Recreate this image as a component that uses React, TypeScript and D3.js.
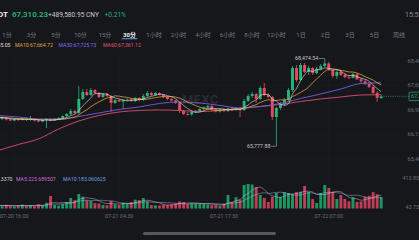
import React from 'react';
import * as d3 from 'd3';

const W = 419;
const H = 240;

// ---- header / tabs ----
const symbolName = 'BTC/USDT';
const lastPriceText = '67,310.23';
const cnyText = '+489,580.95 CNY';
const changeText = '+0.21%';
const clockText = '15:56';
const intervals = ['1分', '3分', '5分', '10分', '15分', '30分', '1小时', '2小时', '4小时', '6小时', '8小时', '12小时', '1日', '2日', '3日', '5日', '周线'];
const activeInterval = '30分';

// ---- 30-minute candles ----
const opens = [
  66676, 66615, 66661, 66599, 66568, 66615, 66584, 66630, 66584, 66615,
  66568, 66538, 66584, 66615, 66568, 66615, 66645, 66707, 66768, 66861,
  66799, 67230, 67445, 67352, 67506, 67414, 67291, 67383, 67322, 67107,
  67199, 67153, 67199, 67214, 67168, 67260, 67199, 67322, 67414, 67352,
  67414, 67368, 67291, 67230, 67184, 67107, 66861, 66768, 66753, 66830,
  66861, 66922, 66968, 67014, 66922, 66845, 66922, 66861, 66938, 66891,
  66953, 66891, 67168, 67322, 67383, 67230, 67568, 67352, 67291, 66676,
  66953, 67076, 67199, 67506, 68182, 67814, 68275, 68060, 68182, 68029,
  68152, 68244, 68321, 68121, 67937, 68060, 67967, 67895.6, 67880.4, 67988.15,
  67834.3, 67773.5, 67690.7, 67598.5, 67415.42, 67260.4,
];
const highs = [
  66707, 66692, 66676, 66645, 66645, 66630, 66676, 66661, 66707, 66630,
  66599, 66599, 66645, 66630, 66645, 66676, 66722, 66799, 66922, 66891,
  67629, 67537, 67537, 67568, 67537, 67445, 67414, 67414, 67352, 67230,
  67230, 67230, 67245, 67245, 67291, 67291, 67383, 67475, 67445, 67445,
  67430, 67383, 67322, 67260, 67199, 67137, 66891, 66830, 66861, 66891,
  66953, 66999, 67045, 67045, 66953, 66938, 66953, 66968, 66984, 66984,
  66984, 67230, 67383, 67445, 67414, 67629, 67721, 67414, 67322, 66984,
  67137, 67260, 67568, 68244, 68275, 68336, 68336, 68244, 68213, 68213,
  68305, 68474.54, 68367, 68152, 68121, 68121, 68029, 67967, 68029, 68029,
  67875, 67814, 67752, 67660, 67475, 67352,
];
const lows = [
  66584, 66584, 66568, 66553, 66538, 66553, 66568, 66553, 66553, 66538,
  66507, 66522, 66338, 66553, 66553, 66584, 66615, 66676, 66738, 66768,
  66768, 67199, 67322, 67322, 67383, 67260, 67260, 67291, 66830, 67076,
  67137, 66922, 67153, 67137, 67137, 67168, 67168, 67291, 67322, 67322,
  67337, 67260, 67199, 67153, 67076, 66799, 66738, 66722, 66722, 66799,
  66830, 66876, 66907, 66876, 66815, 66815, 66830, 66830, 66861, 66861,
  66676, 66861, 67137, 67260, 67107, 67199, 67322, 67260, 66584, 65777.88,
  66891, 67014, 67168, 67445, 67752, 67783, 68029, 67967, 67967, 67998,
  68121, 68213, 68090, 67875, 67844, 67937, 67875, 67844, 67860, 67814,
  67721, 67660, 67568, 67383, 67137, 67230,
];
const closes = [
  66615, 66661, 66599, 66568, 66615, 66584, 66630, 66584, 66615, 66568,
  66538, 66584, 66615, 66568, 66615, 66645, 66707, 66768, 66861, 66799,
  67230, 67445, 67352, 67506, 67414, 67291, 67383, 67322, 67107, 67199,
  67153, 67199, 67214, 67168, 67260, 67199, 67322, 67414, 67352, 67414,
  67368, 67291, 67230, 67184, 67107, 66861, 66768, 66753, 66830, 66861,
  66922, 66968, 67014, 66922, 66845, 66922, 66861, 66938, 66891, 66953,
  66891, 67168, 67322, 67383, 67230, 67568, 67352, 67291, 66676, 66953,
  67076, 67199, 67506, 68182, 67814, 68275, 68060, 68182, 68029, 68152,
  68244, 68321, 68121, 67937, 68060, 67967, 67895.6, 67880.4, 67988.15, 67834.3,
  67773.5, 67690.7, 67598.5, 67415.42, 67260.4, 67310.23,
];
const volumes = [
  55, 40, 60, 45, 35, 50, 65, 45, 55, 40,
  70, 50, 95, 211, 60, 50, 75, 110, 177, 140,
  245, 200, 140, 125, 90, 85, 60, 55, 130, 70,
  60, 95, 80, 110, 150, 140, 177, 120, 60, 55,
  50, 65, 60, 70, 85, 120, 110, 75, 90, 85,
  80, 75, 70, 55, 60, 45, 80, 228, 110, 190,
  150, 397, 413.85, 405, 363, 228, 177, 110, 200, 262,
  194, 279, 262, 240, 279, 285, 380, 279, 160, 93,
  262, 397, 346, 279, 160, 228, 160.4371, 120.5824, 190.3109, 110.8452,
  119.983115, 200.1836, 215.7402, 275.9213, 241.265435, 195.337,
];
// candles just before the visible window (for the short moving averages)
const priorCloses = [66640, 66690, 66655, 66700, 66670, 66630, 66665, 66690, 66650];
const priorVolumes = [60, 45, 70, 50, 55, 40, 65, 50, 45];

// long moving averages, every 5th candle
const maLongIdx = [0, 5, 10, 15, 20, 25, 30, 35, 40, 45, 50, 55, 60, 65, 70, 75, 80, 85, 90, 95];
const ma30Vals = [66722, 66676, 66615, 66615, 66692, 66799, 66907, 66984, 67091, 67137, 67107, 67030, 66953, 66999, 67091, 67245, 67383, 67537, 67706, 67725.73];
const ma60Vals = [65646, 65831, 66000, 66307, 66553, 66722, 66830, 66876, 66891, 66876, 66845, 66876, 66938, 66999, 67061, 67153, 67230, 67291, 67353, 67361.12];

// axes
const priceTicks = [68400, 67650, 66900, 66150, 65400];
const volTickTop = 413.85;
const volTickBottom = 43.75;
const dateTickIdx = [4, 30, 56, 82];
const dateTickLabels = ['07-20 16:00', '07-21 04:30', '07-21 17:30', '07-22 07:00'];

const BG = '#16171b';
const UP = '#26b47a';
const DOWN = '#e64a63';
const VOL_UP = '#1b9862';
const VOL_DOWN = '#c03d56';
const FONT = "Roboto, 'Noto Sans CJK SC', 'Noto Sans', sans-serif";

function movingAvg(prior: number[], vals: number[], n: number): number[] {
  const all = prior.concat(vals);
  const off = prior.length;
  return vals.map((_, i) => {
    const end = i + off;
    return d3.mean(all.slice(end - n + 1, end + 1)) as number;
  });
}

export default function App() {
  const n = closes.length;
  const x = d3.scaleLinear().domain([0, n - 1]).range([-1.85, 381.2]);
  const y = d3.scaleLinear().domain([65400, 68400]).range([158.5, 60.9]);
  const yVol = d3.scaleLinear().domain([0, 413.85]).range([208.5, 184]);
  const tabX = d3.scalePoint<string>().domain(intervals).range([7, 399]);
  const bodyW = 2.9;

  const ma5 = movingAvg(priorCloses, closes, 5);
  const ma10 = movingAvg(priorCloses, closes, 10);
  const vma5 = movingAvg(priorVolumes, volumes, 5);
  const vma10 = movingAvg(priorVolumes, volumes, 10);

  const lineIdx = d3
    .line<number>()
    .x((_, i) => x(i))
    .y((v) => y(v))
    .curve(d3.curveMonotoneX);
  const lineLong = (vals: number[]) =>
    d3
      .line<number>()
      .x((_, i) => x(maLongIdx[i]))
      .y((v) => y(v))
      .curve(d3.curveMonotoneX)(vals) as string;
  const lineVol = d3
    .line<number>()
    .x((_, i) => x(i))
    .y((v) => yVol(v))
    .curve(d3.curveMonotoneX);

  const fmt2 = d3.format(',.2f');
  const last = n - 1;
  const lastClose = closes[last];

  const hiIdx = d3.maxIndex(highs);
  const loIdx = d3.minIndex(lows);

  return (
    <div style={{ position: 'fixed', left: 0, top: 0, width: W, height: H, background: BG }}>
      <svg width={W} height={H} style={{ display: 'block', fontFamily: FONT }}>
        <rect width={W} height={H} fill={BG} />
        <defs>
          <clipPath id="mainClip">
            <rect x={0} y={50} width={400} height={118} />
          </clipPath>
        </defs>

        {/* header */}
        <text x={8} y={17} textAnchor="end" fontSize={8} fontWeight={700} fill="#f0f0f0">{symbolName}</text>
        <text x={12} y={17} fontSize={8} fontWeight={600} fill={UP}>{lastPriceText}</text>
        <text x={48} y={17} fontSize={6.6} fill="#c9cbd0">{cnyText}</text>
        <text x={104.5} y={17} fontSize={6.6} fill={UP}>{changeText}</text>
        <text x={405} y={16.5} fontSize={7} fill="#8a8d94">{clockText}</text>

        {/* interval tabs */}
        {intervals.map((t) => (
          <text
            key={t}
            x={tabX(t)}
            y={36.5}
            textAnchor="middle"
            fontSize={6}
            fontWeight={t === activeInterval ? 700 : 400}
            fill={t === activeInterval ? '#f2f2f2' : '#7a7d85'}
          >
            {t}
          </text>
        ))}
        <rect x={(tabX(activeInterval) as number) - 8} y={38.3} width={16} height={1} rx={0.5} fill="#6e9cf5" />

        {/* MA legend */}
        <g fontSize={5.2}>
          <text x={10.5} y={47} textAnchor="end" fill="#e3dccd">{`MA5:${fmt2(ma5[last])}`}</text>
          <text x={15} y={47} fill="#e0a048">{`MA10:${fmt2(ma10[last])}`}</text>
          <text x={58.5} y={47} fill="#7a6ff0">{`MA30:${fmt2(ma30Vals[ma30Vals.length - 1])}`}</text>
          <text x={103} y={47} fill="#e0556e">{`MA60:${fmt2(ma60Vals[ma60Vals.length - 1])}`}</text>
        </g>

        {/* grid */}
        {priceTicks.map((p) => (
          <line key={p} x1={0} x2={400} y1={y(p)} y2={y(p)} stroke="#1d1f24" strokeWidth={0.6} />
        ))}
        {dateTickIdx.map((i) => (
          <line key={i} x1={x(i)} x2={x(i)} y1={52} y2={210} stroke="#1d1f24" strokeWidth={0.6} />
        ))}

        {/* watermark */}
        <text x={200.5} y={103.5} textAnchor="middle" fontSize={12.5} fontWeight={700} letterSpacing={0.6} fill="#2a2c33">
          MEXC
        </text>

        {/* candles */}
        <g clipPath="url(#mainClip)">
          {closes.map((c, i) => {
            const o = opens[i];
            const up = c >= o;
            const col = up ? UP : DOWN;
            const top = y(Math.max(o, c));
            const bh = Math.max(0.8, Math.abs(y(o) - y(c)));
            return (
              <g key={i}>
                <line x1={x(i)} x2={x(i)} y1={y(highs[i])} y2={y(lows[i])} stroke={col} strokeWidth={0.8} />
                <rect x={x(i) - bodyW / 2} y={top} width={bodyW} height={bh} fill={col} />
              </g>
            );
          })}

          {/* moving averages */}
          <path d={lineLong(ma60Vals)} fill="none" stroke="#d9506b" strokeWidth={0.9} />
          <path d={lineLong(ma30Vals)} fill="none" stroke="#6c60e0" strokeWidth={0.9} />
          <path d={lineIdx(ma10) as string} fill="none" stroke="#e2a040" strokeWidth={0.8} />
          <path d={lineIdx(ma5) as string} fill="none" stroke="#e8e8ec" strokeWidth={0.7} opacity={0.85} />
        </g>

        {/* high / low markers */}
        <g fontSize={5.3} fill="#c6c8cc">
          <text x={x(hiIdx) - 6.5} y={y(highs[hiIdx]) + 1.8} textAnchor="end">{fmt2(highs[hiIdx])}</text>
          <line x1={x(hiIdx) - 6} x2={x(hiIdx)} y1={y(highs[hiIdx])} y2={y(highs[hiIdx])} stroke="#c6c8cc" strokeWidth={0.5} />
          <text x={x(loIdx) - 6} y={y(lows[loIdx]) + 1.8} textAnchor="end">{fmt2(lows[loIdx])}</text>
          <line x1={x(loIdx) - 5.5} x2={x(loIdx)} y1={y(lows[loIdx])} y2={y(lows[loIdx])} stroke="#c6c8cc" strokeWidth={0.5} />
        </g>

        {/* price axis */}
        {priceTicks.map((p) => (
          <text key={p} x={407.5} y={y(p) + 2} fontSize={5.6} fill="#6c6f77">{fmt2(p)}</text>
        ))}

        {/* last price line + tag */}
        <line x1={x(last) + 2.5} x2={409} y1={y(lastClose)} y2={y(lastClose)} stroke={UP} strokeWidth={0.6} strokeDasharray="1,1.2" />
        <rect x={409} y={y(lastClose) - 4.2} width={32} height={8.4} rx={0.8} fill={BG} stroke={UP} strokeWidth={0.7} />
        <text x={411} y={y(lastClose) + 2} fontSize={5.6} fill={UP}>{fmt2(lastClose)}</text>

        {/* volume legend */}
        <g fontSize={5.2}>
          <text x={12.5} y={180.5} textAnchor="end" fill="#d4d4d8">{`VOL:${volumes[last].toFixed(4)}`}</text>
          <text x={16} y={180.5} fill="#c86dd7">{`MA5:${vma5[last].toFixed(6)}`}</text>
          <text x={63} y={180.5} fill="#6f9fe0">{`MA10:${vma10[last].toFixed(6)}`}</text>
        </g>

        {/* volume bars */}
        {volumes.map((v, i) => {
          const up = closes[i] >= opens[i];
          return (
            <rect
              key={i}
              x={x(i) - bodyW / 2}
              y={yVol(v)}
              width={bodyW}
              height={yVol(0) - yVol(v)}
              fill={up ? VOL_UP : VOL_DOWN}
            />
          );
        })}
        <path d={lineVol(vma10) as string} fill="none" stroke="#9bb8e8" strokeWidth={0.6} opacity={0.8} />
        <path d={lineVol(vma5) as string} fill="none" stroke="#dcb0e4" strokeWidth={0.6} opacity={0.8} />

        {/* volume axis */}
        <text x={419} y={yVol(volTickTop) - 4} textAnchor="end" fontSize={5.4} fill="#6c6f77">{volTickTop.toFixed(2)}</text>
        <text x={419} y={yVol(volTickBottom) + 3.2} textAnchor="end" fontSize={5.4} fill="#6c6f77">{volTickBottom.toFixed(2)}</text>

        {/* time axis */}
        {dateTickIdx.map((i, k) => (
          <text key={i} x={x(i)} y={217.5} textAnchor="middle" fontSize={5.4} fill="#6c6f77">
            {dateTickLabels[k]}
          </text>
        ))}

        {/* home indicator */}
        <rect x={143} y={232} width={133} height={3} rx={1.5} fill="#55575d" />
      </svg>
    </div>
  );
}
